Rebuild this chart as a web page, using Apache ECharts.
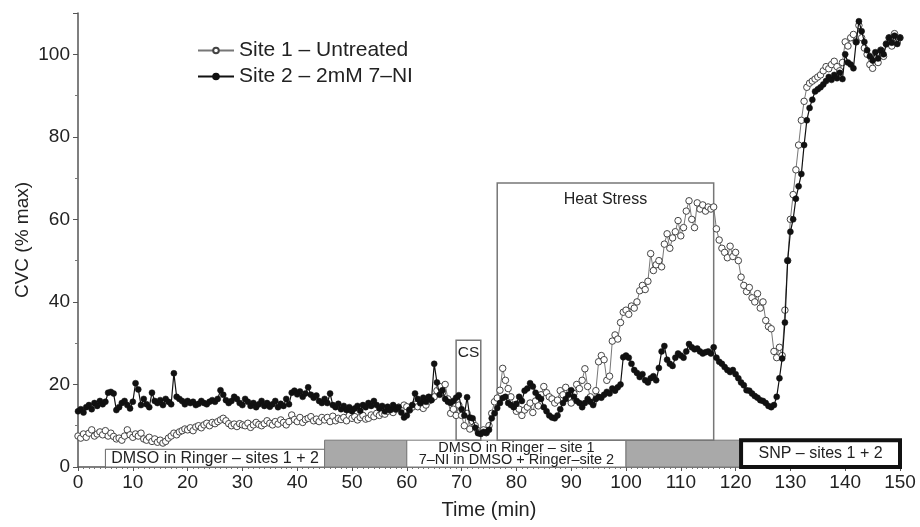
<!DOCTYPE html>
<html>
<head>
<meta charset="utf-8">
<script src="https://cdn.jsdelivr.net/npm/echarts@6/dist/echarts.min.js"></script>
<style>
  html, body { margin: 0; padding: 0; background: #fff; }
  #chart { width: 920px; height: 527px; }
</style>
</head>
<body>
<div id="chart"></div>
<script>
// CVC (% max), sampled every 0.5 min from 0 to 150 min
var stepMin = 0.5;

var site1 = [
  7.5, 7, 8, 7.2, 8.2, 9, 7.5, 8, 8.5, 7.8,
  8.8, 7.5, 8.2, 7.4, 6.8, 7, 6.5, 7.5, 9, 7.8,
  7.2, 8, 7.5, 8.2, 6.8, 6.5, 7.2, 6.2, 6.8, 6,
  6.5, 5.8, 6.2, 7, 7.5, 8.2, 7.8, 8.5, 8.8, 9.2,
  9, 9.5, 8.8, 9.7, 10, 9.5, 10.2, 10.6, 10, 10.8,
  10.5, 11, 11.4, 11.8, 11.2, 10.5, 10, 10.4, 9.8, 10.5,
  10.2, 10, 10.6, 9.6, 10.2, 10.8, 10.3, 10, 10.5, 11.2,
  10.6, 10.2, 11, 10.4, 11.4, 10.8, 10.2, 11, 12.6, 11.5,
  11, 12, 10.8, 11.5, 11.8, 12.2, 11.2, 11.6, 11, 12,
  11.4, 12, 11, 12.3, 11.2, 11.8, 11.5, 12, 11.2, 12.5,
  11.8, 12.2, 11.4, 12, 12.5, 11.6, 11.8, 12.6, 12.2, 13,
  12.5, 13, 12.8, 13.5, 13.8, 13.2, 14, 14.5, 14.2, 15,
  14.6, 13.8, 14.5, 15.2, 14.6, 15.5, 14.2, 15, 16, 16.5,
  17, 18.5, 19.5, 18, 20, 16.5, 13, 14, 12.5, 15,
  12.5, 10, 13, 9.2, 11, 10, 8.8, 8.5, 9, 8.3,
  10, 13, 15.8, 16.7, 18.6, 23.9, 21, 19, 17, 15,
  13.5, 14, 12.5, 13.8, 14.5, 15.5, 13.2, 16, 14.8, 17.5,
  19.5, 18, 17, 16.5, 15.5, 16.2, 18.5, 17.5, 19.3, 16.8,
  15.5, 17.8, 20, 19, 21, 23.8, 19.5, 17, 15.5, 18.5,
  25.5, 27, 26, 21, 22, 30.5, 32, 31, 35, 37.5,
  38, 37, 39, 38.5, 40, 42.7, 44, 43, 45, 51.7,
  47.6, 49, 50, 48.5, 54, 56.5, 53, 55.5, 57, 59.7,
  56, 58, 62, 64.5, 60, 58, 64, 62.5, 63.5, 62,
  63, 62.5, 63, 57.7, 55, 53, 52, 50.7, 53.5, 51,
  52, 50, 46, 44, 42.5, 43.5, 41, 40, 42, 38.5,
  40, 35.5, 34, 33.5, 28, 26.5, 29, 27, 38, 50,
  60, 66, 72, 78, 84, 88.6, 92, 93, 93.5, 94,
  94.5, 95, 96, 97, 96.5, 97.5, 98.3, 97, 96, 98,
  103, 102, 104, 104.8, 103, 107, 104, 101.5, 100, 97.5,
  96.6, 99, 98, 101, 99.5, 102.5, 104, 102, 105, 103,
  104
];

var site2 = [
  13.5, 14, 13.2, 14.5, 15, 14, 15.5, 14.8, 16, 15.2,
  15.8, 18, 18.2, 17.8, 13.8, 14.5, 15.5, 16, 15, 14.2,
  15.8, 20.3, 18.8, 15, 16.5, 15.2, 14.5, 18, 16, 15.5,
  16.2, 15, 16.5, 15.8, 15.2, 22.7, 17, 16.5, 16, 15.2,
  16, 15.5, 15.8, 15, 15.3, 16, 15.5, 15.2, 15.8, 16.2,
  15.8, 16.5, 18.6, 17.5, 16.2, 15.5, 16, 17, 16.5, 15.5,
  15, 16.5, 15.8, 14.8, 15.5, 14.5, 15.2, 16, 14.8, 15.5,
  14.6, 15.2, 16, 14.5, 15.3, 14.8, 16.5, 15.2, 18, 18.5,
  17.6, 18.3, 17, 17.8, 19.3, 17.5, 16.8, 17.3, 16, 15.5,
  16.5, 15.5, 17.8, 15, 14.5, 15.3, 14, 14.8, 13.8, 14.5,
  13.5, 14.2, 14.8, 13.6, 15, 14.5, 15.5, 14.8, 16, 15,
  14.2, 14.8, 13.5, 14.6, 13.8, 15, 14, 14.5, 13.2, 12,
  12.5, 13.8, 15, 17.8, 16.5, 15.5, 16.8, 15.8, 17, 16.2,
  25, 20.5, 17.5, 18.6, 16.5, 15.8, 15.5, 16, 16.8, 17.4,
  14, 12.5, 16.9, 12, 11.8, 9.5, 8.2, 8, 8.5, 8.3,
  9, 11.8, 13, 14.3, 15.5, 16.7, 17, 15.5, 15, 14.5,
  15.3, 17, 16, 18.5, 19, 20.3, 19.5, 18, 17, 16.5,
  14.5, 13.5, 12.5, 12, 11.8, 12.5, 14, 15.5, 16.5, 17.5,
  18.6, 17, 16, 15.5, 14.5, 15.5, 16.5, 15.8, 15, 16.5,
  17, 16.8, 17.5, 18.2, 17.8, 19, 18.5, 19.3, 20, 26.6,
  27, 26.5, 25, 23.5, 22.8, 21.8, 22.5, 21, 20.5, 21.5,
  22, 21, 24, 28, 29.3, 26, 25, 24.5, 26.5, 27.5,
  27, 26.5, 28, 29.8, 29, 28.5, 28.7, 28, 27.5, 27.8,
  28, 27.5, 29, 26.5, 25.5, 25, 24.2, 23.5, 23, 23.5,
  22.5, 21.5, 20.5, 19.8, 18.6, 18.5, 17.8, 17.2, 16.8, 16.2,
  16, 15.5, 14.8, 14.5, 15, 17, 21.5, 26.3, 35, 50,
  57, 60, 65, 68, 71, 78, 84, 87, 89, 91,
  91.5, 92, 92.7, 93.5, 94.5, 93.8, 95, 94.2, 95.5, 94,
  100, 98, 97.5, 96.6, 103, 108, 105.6, 103, 101, 99.5,
  98.5, 100.5, 99, 101, 100, 102.5, 104, 102.8, 104.5, 102.5,
  104
];

// protocol bars along the bottom (min)
var phaseStart = [5, 45, 60, 100, 121];
var phaseEnd = [45, 60, 100, 121, 150];
var phaseTop = [4.3, 6.5, 6.5, 6.5, 6.5];
var phaseLabels = [
  "DMSO in Ringer \u2013 sites 1 + 2",
  "",
  "DMSO in Ringer \u2013 site 1\n7\u2013NI in DMSO + Ringer\u2013site 2",
  "",
  "SNP \u2013 sites 1 + 2"
];

// event boxes (min, CVC)
var eventNames = ["CS", "Heat Stress"];
var eventStart = [69, 76.5];
var eventEnd = [73.5, 116];
var eventTop = [30.7, 68.8];

var toPairs = function (arr) {
  return arr.map(function (v, i) { return [i * stepMin, v]; });
};

var myChart = echarts.init(document.getElementById("chart"));
var font = "'Liberation Sans', Arial, sans-serif";

var phaseStyles = [
  { color: "#fff", borderColor: "#666", borderWidth: 1 },
  { color: "#a9a9a9", borderColor: "#777", borderWidth: 1 },
  { color: "#fff", borderColor: "#777", borderWidth: 1 },
  { color: "#a9a9a9", borderColor: "#777", borderWidth: 1 },
  { color: "#fff", borderColor: "#111", borderWidth: 4 }
];

var phaseAreas = phaseStart.map(function (s, i) {
  return [
    {
      xAxis: s, yAxis: 0, name: phaseLabels[i],
      itemStyle: phaseStyles[i],
      label: {
        show: true, position: "inside", color: "#222",
        fontFamily: font, fontSize: i == 2 ? 14.5 : 16,
        lineHeight: i == 2 ? 12 : 16
      }
    },
    { xAxis: phaseEnd[i], yAxis: phaseTop[i] }
  ];
});

var eventAreas = eventNames.map(function (n, i) {
  return [
    {
      xAxis: eventStart[i], yAxis: 6.5, name: n,
      itemStyle: { color: "rgba(0,0,0,0)", borderColor: "#777", borderWidth: 1.5 },
      label: {
        show: true, position: "insideTop", distance: i == 0 ? 5 : 9,
        color: "#222", fontFamily: font, fontSize: i == 0 ? 15.5 : 16
      }
    },
    { xAxis: eventEnd[i], yAxis: eventTop[i] }
  ];
});

var option = {
  animation: false,
  backgroundColor: "#fff",
  grid: { left: 78, right: 20, top: 13, bottom: 60 },
  legend: {
    orient: "vertical",
    left: 192,
    top: 35,
    itemWidth: 36,
    itemHeight: 7,
    itemGap: 5,
    textStyle: { fontFamily: font, fontSize: 21, color: "#222" },
    data: ["Site 1 \u2013 Untreated", "Site 2 \u2013 2mM 7\u2013NI"]
  },
  xAxis: {
    type: "value",
    min: 0, max: 150, interval: 10,
    name: "Time (min)",
    nameLocation: "middle",
    nameGap: 33,
    nameTextStyle: { fontFamily: font, fontSize: 20, color: "#222" },
    axisLine: { lineStyle: { color: "#555", width: 1.5 } },
    axisTick: { show: true, length: 4, lineStyle: { color: "#555" } },
    minorTick: { show: true, splitNumber: 10, length: 2, lineStyle: { color: "#777" } },
    axisLabel: { fontFamily: font, fontSize: 19, color: "#222", margin: 6 },
    splitLine: { show: false }
  },
  yAxis: {
    type: "value",
    min: 0, max: 110, interval: 20,
    name: "CVC (% max)",
    nameLocation: "middle",
    nameGap: 46,
    nameMoveOverlap: false,
    nameTextStyle: { fontFamily: font, fontSize: 19, color: "#222" },
    axisLine: { show: true, lineStyle: { color: "#555", width: 1.5 } },
    axisTick: { show: true, length: 5, lineStyle: { color: "#555" } },
    minorTick: { show: true, splitNumber: 2, length: 3, lineStyle: { color: "#777" } },
    axisLabel: { fontFamily: font, fontSize: 19, color: "#222", margin: 8, showMaxLabel: false },
    splitLine: { show: false }
  },
  series: [
    {
      name: "Site 1 \u2013 Untreated",
      type: "line",
      data: toPairs(site1),
      symbol: "circle",
      symbolSize: 6.5,
      showAllSymbol: true,
      z: 3,
      lineStyle: { color: "#777", width: 1 },
      itemStyle: { color: "#fff", borderColor: "#444", borderWidth: 1 },
      markArea: { silent: true, data: phaseAreas.concat(eventAreas) }
    },
    {
      name: "Site 2 \u2013 2mM 7\u2013NI",
      type: "line",
      data: toPairs(site2),
      symbol: "circle",
      symbolSize: 6,
      showAllSymbol: true,
      z: 4,
      lineStyle: { color: "#111", width: 1.2 },
      itemStyle: { color: "#111", borderColor: "#111", borderWidth: 0.5 }
    }
  ]
};

myChart.setOption(option);
window.addEventListener("resize", function () {
  myChart.resize();
});
</script>
</body>
</html>
